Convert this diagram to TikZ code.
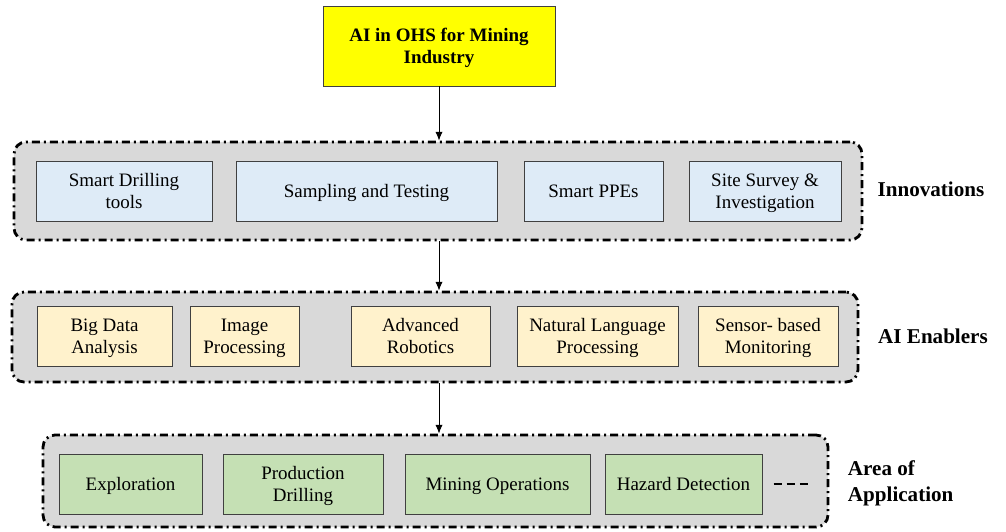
\documentclass[tikz,border=0pt]{standalone}
\usepackage{fontspec}
\setmainfont{Liberation Serif}
\usetikzlibrary{arrows.meta}
\usepackage{xcolor}
\definecolor{titlefill}{HTML}{FFFF00}
\definecolor{groupfill}{HTML}{D9D9D9}
\definecolor{innofill}{HTML}{DEEBF7}
\definecolor{enablefill}{HTML}{FFF2CC}
\definecolor{areafill}{HTML}{C5E0B4}
\definecolor{boxline}{HTML}{404040}

\tikzset{
  item/.style={draw=boxline, line width=0.7pt, align=center, minimum height=1.5cm,
    inner sep=2pt, text depth=0pt, font=\fontsize{13.5}{15.6}\selectfont},
  group/.style={draw=black, fill=groupfill, line width=2pt, rounded corners=0.3cm,
    dash pattern=on 0.2cm off 0.1cm on 0.05cm off 0.1cm},
  tag/.style={font=\fontsize{15}{18.5}\selectfont\bfseries, align=left},
  link/.style={-{Latex[length=2.2mm,width=1.8mm]}, line width=0.6pt}
}

\begin{document}
\begin{tikzpicture}
    \useasboundingbox (0,0) rectangle (25.15,13.275);

    % the three dash-dot groups
    \node [group, minimum width=21.2cm, minimum height=2.45cm] (innov) at (10.95,8.5) {};
    \node [group, minimum width=21.15cm, minimum height=2.25cm] (enabl) at (10.875,4.85) {};
    \node [group, minimum width=19.625cm, minimum height=2.3cm] (apps) at (10.8875,1.25) {};

    % top
    \node [item, fill=titlefill, minimum width=5.8cm, minimum height=2cm,
        font=\fontsize{13.5}{15.6}\selectfont\bfseries] (title) at (10.975,12.125) {AI in OHS for Mining\\Industry};

    % innovations
    \node [item, fill=innofill, minimum width=4.4cm] (drill) at (3.1,8.5) {Smart Drilling\\tools};
    \node [item, fill=innofill, minimum width=6.525cm] (sampl) at (9.1625,8.5) {Sampling and Testing};
    \node [item, fill=innofill, minimum width=3.475cm] (ppe) at (14.8375,8.5) {Smart PPEs};
    \node [item, fill=innofill, minimum width=3.8cm] (survey) at (19.125,8.5) {Site Survey \&\\Investigation};
    \node [tag] (innovtag) at (23.275,8.55) {Innovations};

    % enablers
    \node [item, fill=enablefill, minimum width=3.375cm] (bigdata) at (2.6125,4.875) {Big Data\\Analysis};
    \node [item, fill=enablefill, minimum width=2.725cm] (image) at (6.1125,4.875) {Image\\Processing};
    \node [item, fill=enablefill, minimum width=3.475cm] (robot) at (10.5125,4.875) {Advanced\\Robotics};
    \node [item, fill=enablefill, minimum width=4.025cm] (nlp) at (14.9375,4.875) {Natural Language\\Processing};
    \node [item, fill=enablefill, minimum width=3.5cm] (sensor) at (19.2,4.875) {Sensor- based\\Monitoring};
    \node [tag] (enabltag) at (23.325,4.875) {AI Enablers};

    % areas of application
    \node [item, fill=areafill, minimum width=3.575cm] (explor) at (3.2625,1.175) {Exploration};
    \node [item, fill=areafill, minimum width=4cm] (prod) at (7.575,1.175) {Production\\Drilling};
    \node [item, fill=areafill, minimum width=4.625cm] (mineops) at (12.4375,1.175) {Mining Operations};
    \node [item, fill=areafill, minimum width=3.925cm] (hazard) at (17.0875,1.175) {Hazard Detection};
    \coordinate (more) at (20.2,1.175);
    \draw [line width=1.3pt, dash pattern=on 0.2cm off 0.13cm] ([xshift=0.275cm]hazard.east) -- (more);
    \node [tag, anchor=west] (appstag) at (21.075,1.2) {Area of\\Application};

    % arrows between levels
    \draw [link] (title.south) -- (title.south |- innov.north);
    \draw [link] (title.south |- innov.south) -- (title.south |- enabl.north);
    \draw [link] (title.south |- enabl.south) -- (title.south |- apps.north);
\end{tikzpicture}
\end{document}
